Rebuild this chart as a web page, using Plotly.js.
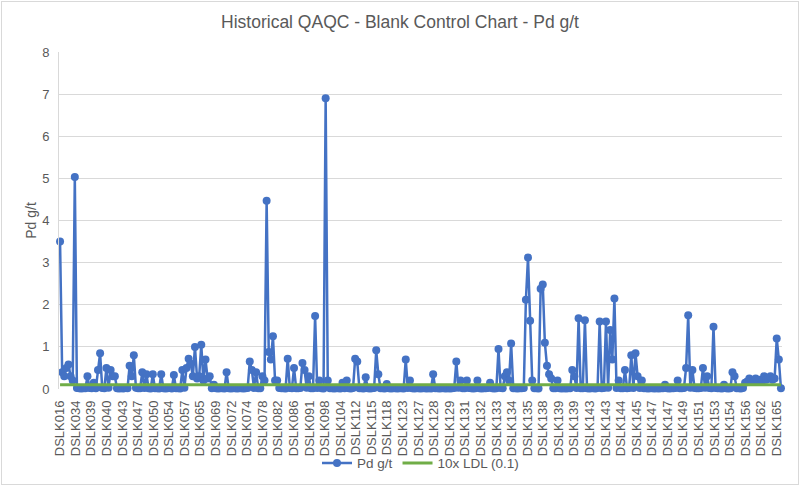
<!DOCTYPE html>
<html>
<head>
<meta charset="utf-8">
<script src="https://cdn.plot.ly/plotly-3.0.1.min.js"></script>
<style>
  body { margin: 0; background: #fff; }
  #chart { width: 800px; height: 486px; outline: 1px solid #d9d9d9; outline-offset: -2px; }
</style>
</head>
<body>
<div id="chart"></div>
<script>
// Pd g/t in blank samples, in sample order
var pdValues = [
  3.5, 0.4, 0.3, 0.5, 0.58, 0.3, 0.2, 5.03, 0.025, 0.015, 0.01, 0.02, 0.015, 0.3, 0.025, 0.015, 0.15, 0.02, 0.45, 0.85,
  0.025, 0.015, 0.5, 0.03, 0.45, 0.3, 0.3, 0.02, 0.01, 0.015, 0.01, 0.025, 0.015, 0.55, 0.3, 0.8, 0.03, 0.015, 0.02, 0.4,
  0.025, 0.35, 0.015, 0.01, 0.35, 0.02, 0.015, 0.01, 0.35, 0.02, 0.01, 0.015, 0.025, 0.01, 0.33, 0.015, 0.02, 0.01, 0.45, 0.03,
  0.5, 0.72, 0.6, 0.3, 1.0, 0.25, 0.3, 1.05, 0.2, 0.7, 0.25, 0.3, 0.02, 0.1, 0.015, 0.01, 0.02, 0.015, 0.01, 0.4,
  0.015, 0.01, 0.02, 0.015, 0.01, 0.015, 0.02, 0.01, 0.015, 0.025, 0.65, 0.45, 0.025, 0.4, 0.02, 0.015, 0.3, 0.2, 4.47, 0.88,
  0.7, 1.25, 0.2, 0.2, 0.025, 0.015, 0.02, 0.01, 0.72, 0.025, 0.015, 0.5, 0.02, 0.015, 0.025, 0.62, 0.45, 0.03, 0.3, 0.02,
  0.015, 1.73, 0.025, 0.2, 0.015, 0.01, 6.9, 0.2, 0.02, 0.015, 0.01, 0.015, 0.02, 0.01, 0.15, 0.015, 0.2, 0.02, 0.01, 0.025,
  0.72, 0.65, 0.02, 0.015, 0.01, 0.28, 0.015, 0.01, 0.02, 0.025, 0.92, 0.35, 0.02, 0.015, 0.01, 0.12, 0.015, 0.01, 0.02, 0.015,
  0.01, 0.015, 0.02, 0.01, 0.7, 0.025, 0.2, 0.015, 0.01, 0.02, 0.015, 0.01, 0.015, 0.02, 0.01, 0.015, 0.01, 0.35, 0.02, 0.015,
  0.01, 0.015, 0.02, 0.01, 0.015, 0.01, 0.02, 0.025, 0.65, 0.03, 0.2, 0.02, 0.015, 0.2, 0.025, 0.015, 0.01, 0.02, 0.2, 0.015,
  0.01, 0.02, 0.015, 0.025, 0.15, 0.015, 0.01, 0.02, 0.95, 0.025, 0.015, 0.3, 0.4, 0.2, 1.08, 0.02, 0.015, 0.01, 0.02, 0.015,
  0.025, 2.12, 3.12, 1.62, 0.2, 0.02, 0.015, 0.01, 2.38, 2.48, 1.1, 0.55, 0.35, 0.25, 0.02, 0.015, 0.2, 0.02, 0.01, 0.015,
  0.01, 0.02, 0.015, 0.45, 0.3, 0.025, 1.68, 0.02, 0.015, 1.63, 0.02, 0.01, 0.015, 0.02, 0.01, 0.025, 1.6, 0.02, 0.025, 1.6,
  0.03, 1.4, 0.7, 2.15, 0.025, 0.2, 0.02, 0.015, 0.45, 0.02, 0.025, 0.8, 0.025, 0.85, 0.3, 0.025, 0.2, 0.02, 0.015, 0.01,
  0.015, 0.02, 0.01, 0.015, 0.01, 0.02, 0.015, 0.1, 0.015, 0.01, 0.02, 0.015, 0.025, 0.2, 0.02, 0.015, 0.025, 0.5, 1.75, 0.03,
  0.45, 0.025, 0.015, 0.02, 0.025, 0.5, 0.03, 0.3, 0.025, 0.02, 1.48, 0.025, 0.015, 0.02, 0.01, 0.1, 0.015, 0.01, 0.02, 0.4,
  0.3, 0.02, 0.015, 0.01, 0.025, 0.15, 0.18, 0.25, 0.2, 0.18, 0.25, 0.2, 0.22, 0.18, 0.3, 0.22, 0.25, 0.3, 0.22, 0.25,
  1.2, 0.7, 0.02
];

// hole ids shown on the category axis (Excel skips labels)
var holeLabels = [
  "DSLK016", "DSLK034", "DSLK039", "DSLK040", "DSLK043", "DSLK047", "DSLK050", "DSLK054",
  "DSLK057", "DSLK065", "DSLK069", "DSLK072", "DSLK074", "DSLK078", "DSLK082", "DSLK086",
  "DSLK091", "DSLK098", "DSLK104", "DSLK112", "DSLK115", "DSLK118", "DSLK123", "DSLK127",
  "DSLK128", "DSLK129", "DSLK131", "DSLK132", "DSLK133", "DSLK134", "DSLK135", "DSLK138",
  "DSLK139", "DSLK139", "DSLK143", "DSLK143", "DSLK144", "DSLK145", "DSLK147", "DSLK147",
  "DSLK149", "DSLK151", "DSLK153", "DSLK154", "DSLK156", "DSLK162", "DSLK165"
];

var ldlLimit = 0.1; // 10x lower detection limit

var sampleIdx = pdValues.map(function (v, i) { return i; });
var lastIdx = pdValues.length - 1;
var labelStep = (lastIdx - 2) / (holeLabels.length - 1);
var tickPos = holeLabels.map(function (l, i) { return i * labelStep; });

var grey = '#595959';

var pdTrace = {
  x: sampleIdx,
  y: pdValues,
  name: 'Pd g/t',
  mode: 'lines+markers',
  type: 'scatter',
  cliponaxis: false,
  line: { color: '#4472C4', width: 2.5 },
  marker: { color: '#4472C4', size: 8 }
};

var ldlTrace = {
  x: [0, lastIdx],
  y: [ldlLimit, ldlLimit],
  name: '10x LDL (0.1)',
  mode: 'lines',
  type: 'scatter',
  cliponaxis: false,
  line: { color: '#70AD47', width: 3 }
};

var layout = {
  width: 800,
  height: 486,
  margin: { l: 59, r: 18, t: 52, b: 97 },
  paper_bgcolor: 'rgba(0,0,0,0)',
  plot_bgcolor: '#fff',
  font: { family: 'Liberation Sans, Arial, sans-serif', color: grey, size: 12 },
  title: {
    text: 'Historical QAQC - Blank Control Chart - Pd g/t',
    font: { size: 17.5, color: grey },
    x: 0.5, xanchor: 'center', y: 0.955, yanchor: 'middle'
  },
  showlegend: true,
  legend: {
    orientation: 'h',
    x: 0.5, xanchor: 'center',
    yref: 'container',
    y: 0.047, yanchor: 'middle',
    font: { size: 13.5, color: grey },
    itemwidth: 30
  },
  xaxis: {
    range: [-0.5, lastIdx + 0.5],
    tickmode: 'array',
    tickvals: tickPos,
    ticktext: holeLabels,
    tickangle: -90,
    tickfont: { size: 13, color: grey },
    showgrid: false,
    zeroline: false,
    showline: false,
    ticks: '',
    ticklabelstandoff: 8,
    automargin: false
  },
  yaxis: {
    range: [0, 8],
    dtick: 1,
    tickfont: { size: 13, color: grey },
    gridcolor: '#d9d9d9',
    gridwidth: 1,
    zeroline: false,
    showline: true,
    linecolor: '#d9d9d9',
    ticks: '',
    ticklabelstandoff: 6,
    automargin: false,
    title: { text: 'Pd g/t', font: { size: 14, color: grey }, standoff: 2 }
  }
};

Plotly.newPlot('chart', [pdTrace, ldlTrace], layout, { displayModeBar: false, staticPlot: true });
</script>
</body>
</html>
